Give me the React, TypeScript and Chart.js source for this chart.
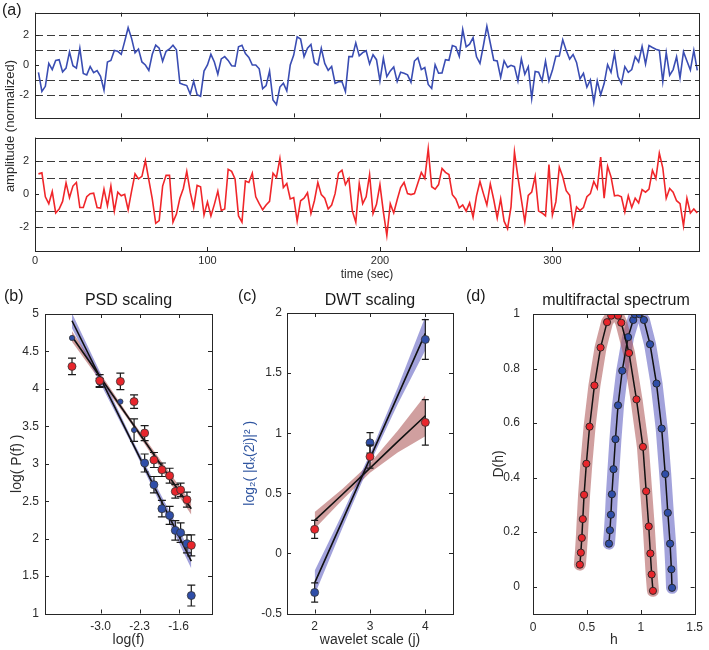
import React, { useEffect, useRef } from "react";
import { Chart, registerables } from "chart.js";

Chart.register(...registerables);

const FONT = '"Liberation Sans", Arial, Helvetica, sans-serif';
Chart.defaults.font.family = FONT;
Chart.defaults.color = "#2b2b2b";

// ---------------- Panel (a): time series ----------------
const timeStart = 2;
const timeStep = 2;
const blueSignal = [
  -0.48, -1.74, -1.4, 0.1, -0.3, 0.3, 0.35, -0.45, -0.2, 0.85, -0.05, -0.2, 1.1, -0.55, -0.65, -0.1, -0.5, -0.37, -0.75, -1.65,
  0.2, 0.3, 0.95, 0.9, 0.7, 1.55, 2.45, 1.75, 0.8, 1.05, 0.2, 0, -0.35, 0.7, 1.3, 1.1, 0.25, 0.9, 1.05, 1.3,
  1.0, -1.2, -1.28, -1.35, -1.9, -1.07, -1.95, -2.05, -0.4, 0, 0.7, 0.2, -0.6, 0.4, 0.55, 0.3, -0.05, -0.07, 1.2, 1.3,
  0.75, 0.5, 0, 0, -0.25, -1.55, -1.35, -0.4, -2.3, -2.6, -1.45, -1.2, -1.7, 0, 0.65, 1.85, 1.7, 0.55, 1.1, 1.35,
  0.15, 0, 1.1, 0.1, -0.35, -0.1, -1.2, -1.1, -1.1, -1.75, 0.55, 0.55, 1.45, 0.6,
  0.81, 0.94, 0.07, 0.67, 0.35, -1.04, 0.44, -0.76, -0.39, -0.13, -1.09, -0.48, -0.54, -0.65, -1.13, 0.26, 0.48, -0.3, -0.17, -1.28,
  -1.54, 0.02, -0.54, -0.52, 0.35, 0.31, 1.28, 1.19, 0.57, 2.33, 1.19, 1.37, 1.8, 0.54, 0.11, 1.28, 2.54, 1.43, 0.31, 0.26,
  -0.81, 0.28, -0.15, -0.02, -0.11, -1.04, 0.39, -0.61, -0.11, -2.19, -0.43, -0.48, -1.04, 0.26, -1.04, -0.35, 0.57, 0.59, 1.65, 0.96,
  0.39, 0.69, 0.17, -0.91, -0.54, -1.46, -0.98, -2.46, -1.04, -1.96, -1.22, 0.02, -0.48, 0.76, -0.76, -1.22, -0.11, -0.48, -0.3, 0.54,
  0.2, 1.22, 0.07, 1.28, 1.15, 1.04, 0.96, -1.09, 0.81, -0.67, -0.3, 0.54, -0.85, 0.87, 0.26, -0.33, 0.96, -0.35,
];
const redSignal = [
  1.24, 1.3, -0.15, -0.57, 0.17, -1.13, -0.89, -0.43, 0.69, -0.2, 0.5, 0.72, -0.8, -0.8, -0.15, 0.04, 0.07, -0.8, -0.83, 0.31,
  -0.7, 0.5, -1.02, 0.13, -0.09, 0.0, -0.94, 0.19, 1.24, 0.93, 1.09, 2.04, 0.87, -0.28, -1.76, -1.59, 0.5, 1.15, 1.15, -1.69,
  -1.2, -0.24, 0.35, 1.39, 0.13, -0.8, 0.54, 0.46, -1.26, -0.46, -1.31, -0.61, 0.19, -0.98, -0.89, 1.52, 1.39, 0.93, -1.31, -1.69,
  0.81, 0.72, 1.28, -0.15, -0.57, -0.94, -0.65, -0.43, 1.28, 1.02, 2.17, 0.41, 0.65, -0.28, -0.2, -1.63, -0.39, -0.24, 0.09, -1.17,
  -0.39, 0.72, -0.02, -0.24, -0.89, -0.65, 0.04, 1.28, 1.46, 0.59, 0.96, -1.02, -1.69, 0.65,
  -0.57, -0.15, 1.2, -1.17, -0.61, 0.59, -1.07, -2.5, -0.57, -1.13, -0.33, 0.41, 0.72, 0.04, -0.02, 0.04, 0.69, 1.33, 0.96, 2.76,
  0.46, 0.31, 0.59, 1.57, 1.33, 1.2, -0.02, -0.28, -0.83, -0.65, -1.02, -0.52, -1.39, -0.09, 0.78, 0.04, -0.65, 0.63, -0.33, -1.44,
  -0.28, -1.63, -2.09, -0.76, 2.57, 1.06, -0.33, -1.67, -0.06, 0.13, 1.09, -1.02, -1.13, -1.31, 1.8, -1.26, -0.46, 1.65, 1.06, 0.22,
  -0.06, -1.85, -0.76, -0.98, -0.8, -0.15, 0.04, 0.78, 0.35, 2.26, -0.24, 1.7, 1.06, -0.09, -0.06, -0.15, -1.07, -0.09, -0.8, -0.24,
  -0.52, 0.28, 0.13, 0.31, 1.46, 0.96, 2.5, 1.61, -0.24, 0.35, 0.13, -0.39, -0.57, -1.91, -0.24, -1.13, -0.89, -1.13,
];
const timeTicks = [0, 50, 100, 150, 200, 250, 300, 350];
const ampTicks = [-2, 0, 2];
const ampDashes = [-2, -1, 1, 2];

// ---------------- Panel (b): PSD scaling ----------------
const psdLogF = [-3.515, -3.018, -2.646, -2.4, -2.21, -2.043, -1.9, -1.761, -1.659, -1.564, -1.45, -1.372];
const psdBlue = [4.68, 4.08, 3.83, 3.45, 3.01, 2.72, 2.4, 2.31, 2.11, 2.08, 1.93, 1.24];
const psdBlueErr = [0, 0.06, 0, 0.15, 0.12, 0.11, 0.11, 0.12, 0.13, 0.13, 0.12, 0.14];
const psdRed = [4.3, 4.11, 4.1, 3.83, 3.41, 3.05, 2.92, 2.84, 2.63, 2.65, 2.52, 1.91];
const psdRedErr = [0.11, 0.08, 0.11, 0.09, 0.1, 0.1, 0.09, 0.1, 0.09, 0.09, 0.1, 0.14];
const psdFitX = [-3.515, -2.45, -1.372];
const psdBlueFit = [4.91, 3.31, 1.7];
const psdBlueBand = [0.1, 0.04, 0.1];
const psdRedFit = [4.7, 3.56, 2.4];
const psdRedBand = [0.07, 0.03, 0.08];
const psdXTicks = [-3.0, -2.3, -1.6];
const psdYTicks = [1, 1.5, 2, 2.5, 3, 3.5, 4, 4.5, 5];

// ---------------- Panel (c): DWT scaling ----------------
const dwtJ = [2, 3, 4];
const dwtBlue = [-0.325, 0.92, 1.78];
const dwtBlueErr = [0.08, 0.085, 0.165];
const dwtRed = [0.2, 0.805, 1.09];
const dwtRedErr = [0.075, 0.095, 0.19];
const dwtFitJ = [2, 2.5, 3, 3.5, 4];
const dwtBlueFit = [-0.245, 0.27, 0.79, 1.31, 1.83];
const dwtBlueBand = [0.1, 0.06, 0.04, 0.07, 0.14];
const dwtRedFit = [0.275, 0.49, 0.71, 0.93, 1.145];
const dwtRedBand = [0.07, 0.045, 0.04, 0.09, 0.17];
const dwtXTicks = [2, 3, 4];
const dwtYTicks = [-0.5, 0, 0.5, 1, 1.5, 2];

// ---------------- Panel (d): multifractal spectrum ----------------
const mfRedH = [0.435, 0.444, 0.453, 0.462, 0.474, 0.495, 0.525, 0.57, 0.627, 0.687, 0.726, 0.789, 0.819, 0.891, 0.96, 1.02, 1.05, 1.074, 1.089, 1.101, 1.113];
const mfRedD = [0.081, 0.125, 0.179, 0.248, 0.337, 0.451, 0.587, 0.738, 0.877, 0.97, 0.994, 0.994, 0.968, 0.857, 0.687, 0.513, 0.35, 0.221, 0.122, 0.045, -0.015];
const mfBlueH = [0.705, 0.714, 0.723, 0.732, 0.747, 0.765, 0.789, 0.828, 0.882, 0.93, 0.945, 0.99, 1.029, 1.086, 1.146, 1.194, 1.227, 1.251, 1.272, 1.284, 1.29];
const mfBlueD = [0.158, 0.207, 0.264, 0.339, 0.431, 0.541, 0.665, 0.792, 0.915, 0.978, 0.999, 0.999, 0.978, 0.889, 0.745, 0.58, 0.413, 0.271, 0.158, 0.064, -0.004];
const mfXTicks = [0, 0.5, 1, 1.5];
const mfYTicks = [0, 0.2, 0.4, 0.6, 0.8, 1];

// ---------------- styling ----------------
const BLUE_LINE = "#3a4db3";
const RED_LINE = "#f0262a";
const RED_PT = "#e8262c";
const BLUE_PT = "#2f4ea8";
const RED_BAND = "rgba(170, 80, 80, 0.55)";
const BLUE_BAND = "rgba(85, 85, 190, 0.55)";

const pts = (xs: number[], ys: number[]) => xs.map((x, i) => ({ x, y: ys[i] }));
const shift = (ys: number[], ds: number[], sign: number) => ys.map((y, i) => y + sign * ds[i]);

const framePlugin = {
  id: "frame",
  beforeDatasetsDraw(chart: any, _a: any, opts: any) {
    const dashes: number[] | undefined = opts && opts.dashes;
    if (!dashes) return;
    const { ctx, chartArea: a, scales } = chart;
    ctx.save();
    ctx.strokeStyle = "#3c3c3c";
    ctx.lineWidth = 1.2;
    ctx.setLineDash([8, 4]);
    for (const v of dashes) {
      const y = Math.round(scales.y.getPixelForValue(v)) + 0.5;
      ctx.beginPath();
      ctx.moveTo(a.left, y);
      ctx.lineTo(a.right, y);
      ctx.stroke();
    }
    ctx.restore();
  },
  afterDraw(chart: any, _a: any, opts: any) {
    const { ctx, chartArea: a, scales } = chart;
    const tl = (opts && opts.tickLen) || 4;
    ctx.save();
    ctx.strokeStyle = "#262626";
    ctx.lineWidth = 1;
    ctx.beginPath();
    for (const t of scales.x.ticks) {
      const x = Math.round(scales.x.getPixelForValue(t.value)) + 0.5;
      ctx.moveTo(x, a.bottom);
      ctx.lineTo(x, a.bottom - tl);
      ctx.moveTo(x, a.top);
      ctx.lineTo(x, a.top + tl);
    }
    for (const t of scales.y.ticks) {
      const y = Math.round(scales.y.getPixelForValue(t.value)) + 0.5;
      ctx.moveTo(a.left, y);
      ctx.lineTo(a.left + tl, y);
      ctx.moveTo(a.right, y);
      ctx.lineTo(a.right - tl, y);
    }
    ctx.stroke();
    ctx.strokeRect(Math.round(a.left) + 0.5, Math.round(a.top) + 0.5, Math.round(a.right - a.left), Math.round(a.bottom - a.top));
    ctx.restore();
  },
};

const errorBarPlugin = {
  id: "errorBars",
  beforeDatasetDraw(chart: any, args: any) {
    const ds = chart.data.datasets[args.index];
    const errs: number[] | undefined = ds.errors;
    if (!errs) return;
    const ys = chart.scales.y;
    const ctx = chart.ctx;
    const cap = ds.capHalf || 4;
    ctx.save();
    ctx.strokeStyle = "#1a1a1a";
    ctx.lineWidth = 1.2;
    args.meta.data.forEach((el: any, i: number) => {
      const e = errs[i];
      if (!e) return;
      const v = ds.data[i].y;
      const y1 = ys.getPixelForValue(v + e);
      const y2 = ys.getPixelForValue(v - e);
      const x = el.x;
      ctx.beginPath();
      ctx.moveTo(x, y1);
      ctx.lineTo(x, y2);
      ctx.moveTo(x - cap, y1);
      ctx.lineTo(x + cap, y1);
      ctx.moveTo(x - cap, y2);
      ctx.lineTo(x + cap, y2);
      ctx.stroke();
    });
    ctx.restore();
  },
};

type AxisSpec = {
  min: number;
  max: number;
  ticks: number[];
  size: number;
  horizontal: boolean;
  labels?: boolean;
  fmt?: (v: number) => string;
  fontSize?: number;
  padding?: number;
  title?: string;
  titleSize?: number;
  titlePad?: any;
  titleColor?: string;
};

function makeAxis(p: AxisSpec) {
  return {
    type: "linear",
    min: p.min,
    max: p.max,
    grid: { display: false, drawTicks: false },
    border: { display: false },
    ticks: {
      display: p.labels !== false,
      autoSkip: false,
      maxRotation: 0,
      minRotation: 0,
      padding: p.padding ?? 5,
      font: { size: p.fontSize ?? 12 },
      color: "#2b2b2b",
      callback: (v: any) => (p.fmt ? p.fmt(Number(v)) : String(+Number(v).toFixed(2))),
    },
    afterBuildTicks: (s: any) => {
      s.ticks = p.ticks.map((v) => ({ value: v }));
    },
    afterFit: (s: any) => {
      if (p.horizontal) s.height = p.size;
      else s.width = p.size;
    },
    title: p.title
      ? { display: true, text: p.title, font: { size: p.titleSize ?? 14 }, color: p.titleColor ?? "#2b2b2b", padding: p.titlePad ?? 0 }
      : { display: false },
  };
}

function baseOptions(padding: any, scales: any, frame: any) {
  return {
    animation: false,
    responsive: true,
    maintainAspectRatio: false,
    devicePixelRatio: 1,
    events: [],
    layout: { padding },
    plugins: { legend: { display: false }, tooltip: { enabled: false }, title: { display: false }, frame },
    scales,
  };
}

function ChartBox({ l, t, w, h, make }: { l: number; t: number; w: number; h: number; make: () => any }) {
  const ref = useRef<HTMLCanvasElement | null>(null);
  useEffect(() => {
    if (!ref.current) return;
    const c = new Chart(ref.current, make());
    return () => c.destroy();
  }, []);
  return (
    <div style={{ position: "absolute", left: l, top: t, width: w, height: h }}>
      <canvas ref={ref} />
    </div>
  );
}

function timeSeriesConfig(values: number[], color: string, bottom: boolean) {
  return {
    type: "line",
    data: {
      datasets: [
        {
          data: values.map((v, i) => ({ x: timeStart + i * timeStep, y: v })),
          borderColor: color,
          borderWidth: 1.6,
          pointRadius: 0,
          tension: 0,
          fill: false,
        },
      ],
    },
    options: baseOptions(
      bottom ? { top: 3, right: 10, left: 0, bottom: 0 } : { top: 2, right: 10, left: 0, bottom: 0 },
      {
        x: makeAxis({
          min: 0,
          max: 385,
          ticks: timeTicks,
          size: bottom ? 35 : 5,
          horizontal: true,
          labels: bottom,
          fontSize: 11,
          padding: 3,
          fmt: (v) => (v % 100 === 0 ? String(v) : ""),
          title: bottom ? "time (sec)" : undefined,
          titleSize: 12,
          titlePad: { top: 0, bottom: 4 },
        }),
        y: makeAxis({ min: -3.44, max: 3.44, ticks: ampTicks, size: 35, horizontal: false, fontSize: 11, padding: 6 }),
      },
      { dashes: ampDashes, tickLen: 4 }
    ),
    plugins: [framePlugin],
  };
}

function bandSets(xs: number[], fit: number[], band: number[], color: string) {
  return [
    { data: pts(xs, shift(fit, band, 1)), showLine: true, pointRadius: 0, borderWidth: 0, borderColor: "rgba(0,0,0,0)", backgroundColor: color, fill: "+1", order: 10 },
    { data: pts(xs, shift(fit, band, -1)), showLine: true, pointRadius: 0, borderWidth: 0, borderColor: "rgba(0,0,0,0)", fill: false, order: 11 },
  ];
}

function fitSet(xs: number[], fit: number[]) {
  return { data: pts(xs, fit), showLine: true, pointRadius: 0, borderWidth: 1.6, borderColor: "#111", fill: false, order: 5 };
}

function pointSet(xs: number[], ys: number[], errs: number[], color: string, order: number, radius: any, cap: number) {
  return {
    data: pts(xs, ys),
    errors: errs,
    capHalf: cap,
    showLine: false,
    pointRadius: radius,
    pointBackgroundColor: color,
    pointBorderColor: "#333",
    pointBorderWidth: 0.8,
    order,
  };
}

function psdConfig() {
  return {
    type: "scatter",
    data: {
      datasets: [
        ...bandSets(psdFitX, psdBlueFit, psdBlueBand, BLUE_BAND),
        ...bandSets(psdFitX, psdRedFit, psdRedBand, RED_BAND),
        fitSet(psdFitX, psdBlueFit),
        fitSet(psdFitX, psdRedFit),
        pointSet(psdLogF, psdBlue, psdBlueErr, BLUE_PT, 2, [2.6, 2.6, 2.6, 2.6, 4, 4, 4, 4, 4, 4, 4, 4], 4),
        pointSet(psdLogF, psdRed, psdRedErr, RED_PT, 1, 4, 4),
      ],
    },
    options: baseOptions(
      { top: 24, right: 18, left: 0, bottom: 0 },
      {
        x: makeAxis({ min: -4, max: -1, ticks: psdXTicks, size: 36.5, horizontal: true, padding: 6, fmt: (v) => v.toFixed(1), title: "log(f)", titlePad: { top: 0, bottom: 1 } }),
        y: makeAxis({ min: 1, max: 5, ticks: psdYTicks, size: 45, horizontal: false, padding: 6, title: "log( P(f) )", titlePad: { top: 9, bottom: 0 } }),
      },
      { tickLen: 4 }
    ),
    plugins: [framePlugin, errorBarPlugin],
  };
}

function dwtConfig() {
  return {
    type: "scatter",
    data: {
      datasets: [
        ...bandSets(dwtFitJ, dwtBlueFit, dwtBlueBand, BLUE_BAND),
        ...bandSets(dwtFitJ, dwtRedFit, dwtRedBand, RED_BAND),
        fitSet(dwtFitJ, dwtBlueFit),
        fitSet(dwtFitJ, dwtRedFit),
        pointSet(dwtJ, dwtBlue, dwtBlueErr, BLUE_PT, 2, 4, 3.5),
        pointSet(dwtJ, dwtRed, dwtRedErr, RED_PT, 1, 4, 3.5),
      ],
    },
    options: baseOptions(
      { top: 23, right: 17, left: 0, bottom: 0 },
      {
        x: makeAxis({ min: 1.5, max: 4.5, ticks: dwtXTicks, size: 36.5, horizontal: true, padding: 6, title: "wavelet scale (j)", titlePad: { top: 0, bottom: 1 } }),
        y: makeAxis({
          min: -0.5,
          max: 2,
          ticks: dwtYTicks,
          size: 57,
          horizontal: false,
          padding: 5,
          title: "log\u2082( |d\u2093(2\u02B2)|\u00B2 )",
          titleColor: "#2f55a0",
          titlePad: { top: 12, bottom: 0 },
        }),
      },
      { tickLen: 4 }
    ),
    plugins: [framePlugin, errorBarPlugin],
  };
}

function curveSets(hs: number[], ds: number[], band: string, color: string, order: number) {
  return [
    {
      data: pts(hs, ds),
      showLine: true,
      pointRadius: 0,
      borderWidth: 12,
      borderColor: band,
      borderCapStyle: "round",
      borderJoinStyle: "round",
      fill: false,
      order: 10 + order,
    },
    {
      data: pts(hs, ds),
      showLine: true,
      borderWidth: 1.5,
      borderColor: "#111",
      pointRadius: 3.6,
      pointBackgroundColor: color,
      pointBorderColor: "#222",
      pointBorderWidth: 0.9,
      fill: false,
      order,
    },
  ];
}

function mfConfig() {
  return {
    type: "scatter",
    data: {
      datasets: [...curveSets(mfBlueH, mfBlueD, BLUE_BAND, BLUE_PT, 2), ...curveSets(mfRedH, mfRedD, RED_BAND, RED_PT, 1)],
    },
    options: baseOptions(
      { top: 24, right: 10, left: 0, bottom: 0 },
      {
        x: makeAxis({ min: 0, max: 1.5, ticks: mfXTicks, size: 36, horizontal: true, padding: 6, title: "h", titlePad: { top: 0, bottom: 1 } }),
        y: makeAxis({ min: -0.1, max: 1, ticks: mfYTicks, size: 63, horizontal: false, padding: 13, title: "D(h)", titlePad: { top: 21, bottom: 0 } }),
      },
      { tickLen: 4 }
    ),
    plugins: [framePlugin],
  };
}

const textBase: React.CSSProperties = {
  position: "absolute",
  fontFamily: FONT,
  whiteSpace: "nowrap",
  lineHeight: 1,
  color: "#1a1a1a",
};

function Title({ cx, cy, text }: { cx: number; cy: number; text: string }) {
  return <div style={{ ...textBase, left: cx, top: cy, fontSize: 16, transform: "translate(-50%, -50%)" }}>{text}</div>;
}

function PanelLabel({ x, y, text }: { x: number; y: number; text: string }) {
  return <div style={{ ...textBase, left: x, top: y, fontSize: 16 }}>{text}</div>;
}

export default function App() {
  return (
    <div style={{ position: "absolute", left: 0, top: 0, width: 709, height: 650, background: "#fff", overflow: "hidden" }}>
      <ChartBox l={0} t={0} w={709} h={130} make={() => timeSeriesConfig(blueSignal, BLUE_LINE, false)} />
      <ChartBox l={0} t={125} w={709} h={161} make={() => timeSeriesConfig(redSignal, RED_LINE, true)} />
      <ChartBox l={0} t={290} w={230} h={360} make={psdConfig} />
      <ChartBox l={230} t={290} w={240} h={360} make={dwtConfig} />
      <ChartBox l={470} t={290} w={239} h={360} make={mfConfig} />

      <div
        style={{
          ...textBase,
          left: 9,
          top: 126,
          fontSize: 13,
          color: "#2b2b2b",
          transform: "translate(-50%, -50%) rotate(-90deg)",
        }}
      >
        amplitude (normalized)
      </div>

      <PanelLabel x={2} y={1.5} text="(a)" />
      <PanelLabel x={4} y={288} text="(b)" />
      <PanelLabel x={238} y={288} text="(c)" />
      <PanelLabel x={466} y={288} text="(d)" />

      <Title cx={128.5} cy={300} text="PSD scaling" />
      <Title cx={370} cy={300} text="DWT scaling" />
      <Title cx={616} cy={300} text="multifractal spectrum" />
    </div>
  );
}
